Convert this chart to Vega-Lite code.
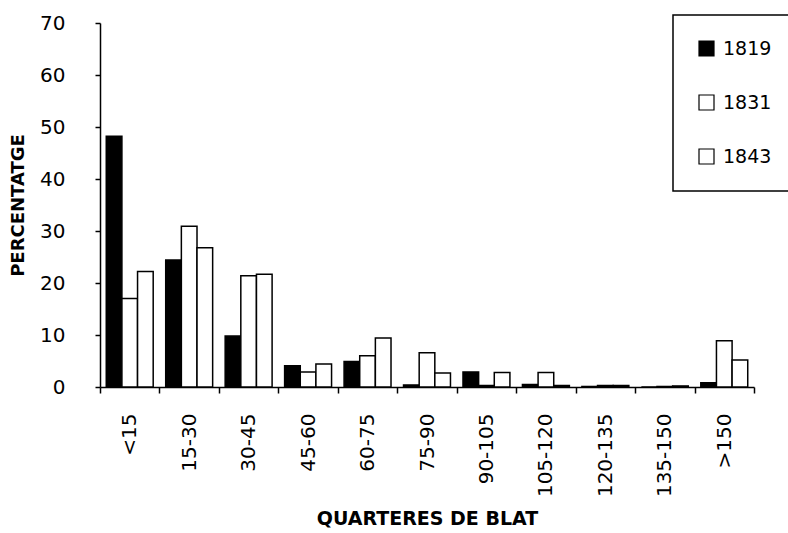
{
  "$schema": "https://vega.github.io/schema/vega-lite/v6.json",
  "autosize": {"type": "none"},
  "width": 654,
  "height": 364,
  "padding": {"left": 100, "top": 23, "right": 34, "bottom": 146},
  "background": "white",
  "config": {
    "view": {"stroke": null},
    "axis": {"domainColor": "black", "tickColor": "black", "labelColor": "black", "titleColor": "black", "grid": false}
  },
  "data": {
    "values": [
      {"cat": "<15", "year": "1819", "pct": 48.2},
      {"cat": "<15", "year": "1831", "pct": 17.0},
      {"cat": "<15", "year": "1843", "pct": 22.2},
      {"cat": "15-30", "year": "1819", "pct": 24.4},
      {"cat": "15-30", "year": "1831", "pct": 30.9},
      {"cat": "15-30", "year": "1843", "pct": 26.8},
      {"cat": "30-45", "year": "1819", "pct": 9.8},
      {"cat": "30-45", "year": "1831", "pct": 21.4},
      {"cat": "30-45", "year": "1843", "pct": 21.7},
      {"cat": "45-60", "year": "1819", "pct": 4.1},
      {"cat": "45-60", "year": "1831", "pct": 2.9},
      {"cat": "45-60", "year": "1843", "pct": 4.4},
      {"cat": "60-75", "year": "1819", "pct": 4.9},
      {"cat": "60-75", "year": "1831", "pct": 6.0},
      {"cat": "60-75", "year": "1843", "pct": 9.4},
      {"cat": "75-90", "year": "1819", "pct": 0.4},
      {"cat": "75-90", "year": "1831", "pct": 6.6},
      {"cat": "75-90", "year": "1843", "pct": 2.7},
      {"cat": "90-105", "year": "1819", "pct": 2.9},
      {"cat": "90-105", "year": "1831", "pct": 0.3},
      {"cat": "90-105", "year": "1843", "pct": 2.8},
      {"cat": "105-120", "year": "1819", "pct": 0.5},
      {"cat": "105-120", "year": "1831", "pct": 2.8},
      {"cat": "105-120", "year": "1843", "pct": 0.3},
      {"cat": "120-135", "year": "1819", "pct": 0.1},
      {"cat": "120-135", "year": "1831", "pct": 0.3},
      {"cat": "120-135", "year": "1843", "pct": 0.3},
      {"cat": "135-150", "year": "1819", "pct": 0.0},
      {"cat": "135-150", "year": "1831", "pct": 0.1},
      {"cat": "135-150", "year": "1843", "pct": 0.2},
      {"cat": ">150", "year": "1819", "pct": 0.8},
      {"cat": ">150", "year": "1831", "pct": 8.9},
      {"cat": ">150", "year": "1843", "pct": 5.2}
    ]
  },
  "mark": {"type": "bar", "stroke": "black", "strokeWidth": 1.5},
  "encoding": {
    "x": {
      "field": "cat",
      "type": "nominal",
      "sort": ["<15", "15-30", "30-45", "45-60", "60-75", "75-90", "90-105", "105-120", "120-135", "135-150", ">150"],
      "scale": {"paddingInner": 0, "paddingOuter": 0},
      "axis": {
        "title": "QUARTERES DE BLAT",
        "titleFont": "DejaVu Sans",
        "titleFontWeight": "bold",
        "titleFontSize": 19,
        "titlePadding": 13,
        "labelAngle": -90,
        "labelFont": "DejaVu Sans",
        "labelFontSize": 20,
        "labelPadding": 20,
        "tickBand": "extent",
        "tickSize": 6,
        "tickWidth": 1.5,
        "domainWidth": 1.5
      }
    },
    "xOffset": {
      "field": "year",
      "type": "nominal",
      "scale": {"paddingInner": 0, "paddingOuter": 0.4}
    },
    "y": {
      "field": "pct",
      "type": "quantitative",
      "scale": {"domain": [0, 70], "nice": false},
      "axis": {
        "title": "PERCENTATGE",
        "titleFont": "DejaVu Sans",
        "titleFontWeight": "bold",
        "titleFontSize": 18,
        "titlePadding": 12,
        "values": [0, 10, 20, 30, 40, 50, 60, 70],
        "labelFont": "DejaVu Sans",
        "labelFontSize": 20,
        "labelPadding": 30,
        "tickSize": 5,
        "tickWidth": 1.5,
        "domainWidth": 1.5
      }
    },
    "fill": {
      "field": "year",
      "type": "nominal",
      "scale": {"domain": ["1819", "1831", "1843"], "range": ["black", "white", "white"]},
      "legend": {
        "title": null,
        "orient": "none",
        "legendX": 573,
        "legendY": -8,
        "direction": "vertical",
        "padding": 24,
        "strokeColor": "black",
        "fillColor": "white",
        "symbolType": "square",
        "symbolSize": 225,
        "symbolStrokeColor": "black",
        "symbolStrokeWidth": 1.2,
        "symbolOpacity": 1,
        "labelFont": "DejaVu Sans",
        "labelFontSize": 19,
        "labelColor": "black",
        "labelOffset": 7,
        "rowPadding": 33,
        "encode": {"legend": {"update": {"strokeWidth": {"value": 1.5}}}}
      }
    }
  }
}
